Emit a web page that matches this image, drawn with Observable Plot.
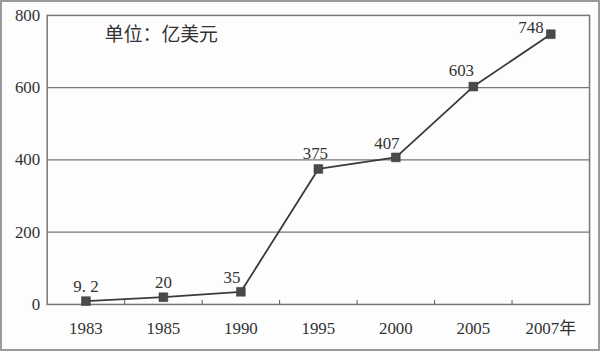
<!DOCTYPE html>
<html>
<head>
<meta charset="utf-8">
<script src="https://cdn.jsdelivr.net/npm/d3@7"></script>
<script src="https://cdn.jsdelivr.net/npm/@observablehq/plot@0.6"></script>
<style>
  html, body { margin: 0; padding: 0; background: #fff; }
  #wrap { position: relative; width: 600px; height: 351px; box-sizing: border-box; border: 2px solid #9a9a9a; background: #fdfdfd; overflow: hidden; }
  #wrap svg { position: absolute; left: -2px; top: -2px; }
</style>
</head>
<body>
<div id="wrap"></div>
<script>
const years = ["1983", "1985", "1990", "1995", "2000", "2005", "2007年"];
const values = [9.2, 20, 35, 375, 407, 603, 748];
const valueLabels = ["9. 2", "20", "35", "375", "407", "603", "748"];
const yTicks = [0, 200, 400, 600, 800];
const unitLabel = "单位：亿美元";

const data = years.map((y, i) => ({year: y, value: values[i], label: valueLabels[i]}));
// label offsets (style only)
const labelDx = [0, 0, -9, -3, -9, -12, -20];
const labelDy = [-15, -15, -14, -15, -14, -16, -7];

const font = "'Liberation Serif', 'Noto Sans CJK SC', serif";

const labelMarks = data.map((d, i) =>
  Plot.text([d], {x: "year", y: "value", text: "label", dx: labelDx[i], dy: labelDy[i],
    fontSize: 17, fill: "#333", fontFamily: font})
);

const chart = Plot.plot({
  width: 600,
  height: 351,
  marginLeft: 47,
  marginRight: 7,
  marginTop: 15,
  marginBottom: 45,
  style: {background: "transparent", fontFamily: font, fontSize: "17px", color: "#333"},
  x: {type: "band", domain: years, padding: 0, label: null, tickSize: 0, tickPadding: 18},
  y: {domain: [0, 800], ticks: yTicks, label: null, tickSize: 0, tickPadding: 7},
  marks: [
    Plot.ruleY(yTicks.slice(1, 4), {stroke: "#777", strokeWidth: 1.3}),
    Plot.frame({stroke: "#777", strokeWidth: 1.5}),
    Plot.ruleX(years.slice(0, 6), {x: d => d, dx: 39, y1: 0, y2: 11, stroke: "#555", strokeWidth: 1}),
    Plot.line(data, {x: "year", y: "value", stroke: "#3a3a3a", strokeWidth: 1.8}),
    Plot.dot(data, {x: "year", y: "value", symbol: "square", r: 5, fill: "#4a4a4a", stroke: "#333", strokeWidth: 0.5}),
    ...labelMarks,
    Plot.text([unitLabel], {frameAnchor: "top-left", dx: 58, dy: 12, fontSize: 19, fill: "#333", textAnchor: "start", fontFamily: font})
  ]
});

document.getElementById("wrap").appendChild(chart);
</script>
</body>
</html>
